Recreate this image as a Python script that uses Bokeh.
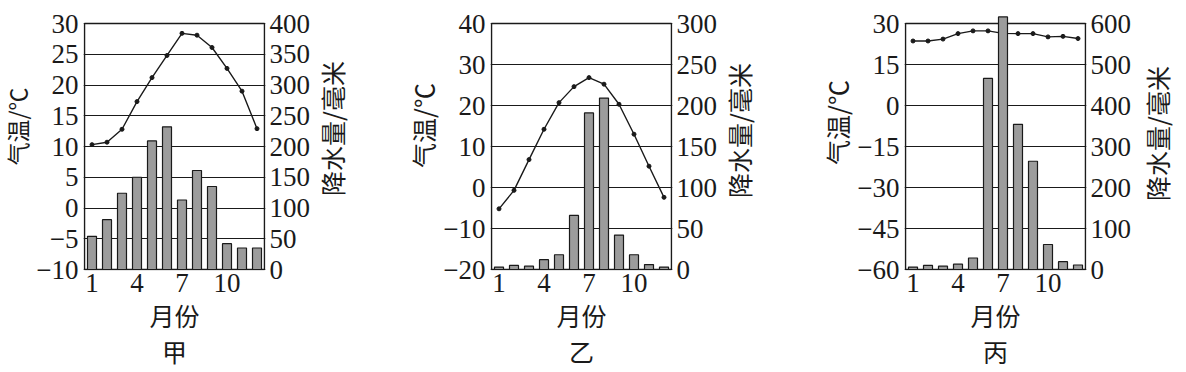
import math
from bokeh.plotting import figure
from bokeh.models import Range1d, LinearAxis, FixedTicker, Title, CustomJSTickFormatter
from bokeh.core.properties import value
from bokeh.layouts import row
from bokeh.embed import file_html
from bokeh.resources import INLINE

# ---------------- data ----------------
months = [1, 2, 3, 4, 5, 6, 7, 8, 9, 10, 11, 12]
month_ticks = [1, 4, 7, 10]

temp_jia = [10.3, 10.7, 12.8, 17.3, 21.2, 24.8, 28.4, 28.1, 26.1, 22.7, 19.0, 12.9]
prec_jia = [54, 81, 124, 150, 209, 232, 113, 161, 135, 42, 35, 35]
temp_ticks_jia = [-10, -5, 0, 5, 10, 15, 20, 25, 30]
prec_ticks_jia = [0, 50, 100, 150, 200, 250, 300, 350, 400]

temp_yi = [-5.2, -0.7, 6.8, 14.2, 20.7, 24.6, 26.8, 25.2, 20.3, 13.0, 5.2, -2.4]
prec_yi = [3, 5, 4, 12, 18, 66, 191, 209, 42, 18, 6, 3]
temp_ticks_yi = [-20, -10, 0, 10, 20, 30, 40]
prec_ticks_yi = [0, 50, 100, 150, 200, 250, 300]

temp_bing = [23.6, 23.6, 24.3, 26.3, 27.3, 27.3, 26.4, 26.3, 26.3, 25.1, 25.3, 24.5]
prec_bing = [6, 10, 8, 13, 28, 466, 616, 354, 264, 61, 19, 11]
temp_ticks_bing = [-60, -45, -30, -15, 0, 15, 30]
prec_ticks_bing = [0, 100, 200, 300, 400, 500, 600]

names = ["甲", "乙", "丙"]
x_title = "月份"
temp_title = "气温/℃"
prec_title = "降水量/毫米"

# ---------------- style / layout ----------------
INK = "#1a1a1a"
NUM_FONT = "Liberation Serif"
CJK_FONT = "Noto Sans CJK SC"
X_LO, X_HI = 0.5, 12.5
H = 372
TOP = 14          # top border (px)
FH = 256          # frame height (px): 1 px + box 246 px + 1 px + 8 px headroom
BOT = H - TOP - FH
BOX_H = 246
FW = 182          # frame width (px): 12 months * 15 px + 2
BL, BR = 48, 46   # panel side borders

minus_fmt = CustomJSTickFormatter(code="""
    return tick < 0 ? "\\u2212" + Math.abs(tick) : String(tick);
""")


def make_panel(temp, prec, tticks, pticks, name, x_off, name_off):
    t_lo, t_hi = tticks[0], tticks[-1]
    p_hi = pticks[-1]
    ppu = BOX_H / (t_hi - t_lo)
    t_bot = t_lo - 1 / ppu
    t_top = t_hi + (FH - BOX_H - 1) / ppu
    scale = p_hi / (t_hi - t_lo)
    xpad = 1 / 15
    p = figure(frame_width=FW, frame_height=FH,
               x_range=Range1d(X_LO - xpad, X_HI + xpad), y_range=Range1d(t_bot, t_top),
               output_backend="svg", toolbar_location=None,
               min_border_left=BL, min_border_right=BR,
               min_border_top=TOP, min_border_bottom=BOT)
    p.title = None
    p.outline_line_color = None
    p.background_fill_color = "white"
    p.border_fill_color = "white"
    p.xgrid.visible = False
    p.ygrid.ticker = FixedTicker(ticks=tticks)
    p.ygrid.grid_line_color = INK
    p.ygrid.grid_line_width = 1.2

    p.extra_y_ranges = {"prec": Range1d((t_bot - t_lo) * scale, (t_top - t_lo) * scale)}
    rax = LinearAxis(y_range_name="prec", ticker=FixedTicker(ticks=pticks))
    p.add_layout(rax, "right")

    p.xaxis.ticker = FixedTicker(ticks=month_ticks)
    p.yaxis[0].ticker = FixedTicker(ticks=tticks)
    p.yaxis[0].formatter = minus_fmt

    for ax in p.axis:
        ax.axis_line_color = None
        ax.major_tick_line_color = None
        ax.minor_tick_line_color = None
        ax.major_tick_in = 0
        ax.major_tick_out = 0
        ax.major_label_text_font = NUM_FONT
        ax.major_label_text_font_size = "27px"
        ax.major_label_text_color = INK
    p.yaxis[0].major_label_standoff = 5
    rax.major_label_standoff = 4
    p.xaxis.major_label_standoff = 3

    # frame box
    p.quad(left=[X_LO], right=[X_HI], bottom=[t_lo], top=[t_hi],
           fill_color=None, line_color=INK, line_width=1.5)

    p.line(months, temp, line_color=INK, line_width=1.4)
    p.scatter(months, temp, size=4, color=INK)
    p.vbar(x=months, top=prec, bottom=0, width=0.6, y_range_name="prec",
           fill_color="#9c9c9c", line_color=INK, line_width=1.2)

    def title(text, offset, standoff):
        t = Title(text=text, align="center", offset=offset, standoff=standoff,
                  text_font=CJK_FONT, text_font_size="25px", text_font_style="normal",
                  text_color=INK)
        p.add_layout(t, "below")

    title(x_title, x_off, 0)
    title(name, name_off, -4)
    return p


def spacer(w, items):
    """Narrow figure that carries the rotated axis titles (reading bottom to top)."""
    s = figure(width=w, height=H, x_range=Range1d(0, w), y_range=Range1d(BOT, H - TOP),
               min_border_left=0, min_border_right=0, min_border_top=TOP, min_border_bottom=BOT,
               output_backend="svg", toolbar_location=None, x_axis_type=None, y_axis_type=None)
    s.title = None
    s.outline_line_color = None
    s.background_fill_color = "white"
    s.border_fill_color = "white"
    for text, x, cy, size in items:
        s.text(x=[x], y=[H - cy], text=[text], angle=math.pi / 2,
               text_align="center", text_baseline="middle",
               text_font=value(CJK_FONT), text_font_size=value(size), text_color=INK)
    return s


p1 = make_panel(temp_jia, prec_jia, temp_ticks_jia, prec_ticks_jia, names[0], -8, -10)
p2 = make_panel(temp_yi, prec_yi, temp_ticks_yi, prec_ticks_yi, names[1], -8, -8)
p3 = make_panel(temp_bing, prec_bing, temp_ticks_bing, prec_ticks_bing, names[2], -9, -8)

# spacer widths: 33 | panel 276 | 127 | panel 276 | 134 | panel 276 | 64  -> 1186
s0 = spacer(33, [(temp_title, 16.5, 126, "23px")])
s12 = spacer(127, [(prec_title, 18, 128, "25px"), (temp_title, 109, 125, "25px")])
s23 = spacer(134, [(prec_title, 18, 130, "25px"), (temp_title, 116, 122, "25px")])
s3 = spacer(64, [(prec_title, 22, 133, "25px")])

layout = row(s0, p1, s12, p2, s23, p3, s3)
open("out.html", "w").write(file_html(layout, INLINE))
